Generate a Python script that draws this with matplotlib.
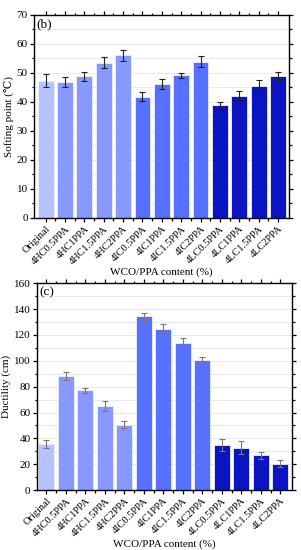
import matplotlib.pyplot as plt
from matplotlib.ticker import MultipleLocator

labels = ["Original", "4HC0.5PPA", "4HC1PPA", "4HC1.5PPA", "4HC2PPA",
          "4IC0.5PPA", "4IC1PPA", "4IC1.5PPA", "4IC2PPA",
          "4LC0.5PPA", "4LC1PPA", "4LC1.5PPA", "4LC2PPA"]
groups = ["orig"] + ["HC"] * 4 + ["IC"] * 4 + ["LC"] * 4

softening = [47.3, 46.9, 48.8, 53.5, 56.0, 41.8, 46.1, 49.2, 53.8, 38.8, 42.1, 45.6, 48.8]
softening_err = [2.2, 1.7, 1.5, 2.0, 2.0, 1.5, 1.8, 0.9, 1.9, 1.2, 1.6, 1.8, 1.4]

ductility = [35.6, 88.5, 77.1, 65.2, 50.5, 134.4, 124.8, 113.4, 100.7, 34.8, 32.8, 26.8, 20.4]
ductility_err = [3.4, 3.0, 2.0, 3.8, 2.7, 2.8, 4.0, 4.5, 2.6, 4.4, 5.0, 3.0, 2.6]

colors = {"orig": "#b6c2ff", "HC": "#8798ff", "IC": "#5671ff", "LC": "#0a14c2"}

plt.rcParams["font.family"] = ["Liberation Serif", "DejaVu Serif"]
plt.rcParams["font.size"] = 8


def draw_panel(ax, vals, errs, ylim, major, minor, ylabel, tag, ecolor, xlim):
    x = range(len(vals))
    ax.bar(x, vals, width=0.82, color=[colors[g] for g in groups],
           edgecolor="#eef0ff", linewidth=0.6, zorder=2)
    ax.errorbar(x, vals, yerr=errs, fmt="none", ecolor=ecolor,
                elinewidth=0.8, capsize=2, capthick=0.8, zorder=3)
    ax.set_ylim(*ylim)
    ax.set_xlim(*xlim)
    ax.yaxis.set_major_locator(MultipleLocator(major))
    ax.yaxis.set_minor_locator(MultipleLocator(minor))
    ax.set_xticks(list(x))
    ax.set_xticks([i + 0.5 for i in range(len(vals) - 1)], minor=True)
    ax.set_xticklabels(labels, rotation=45, ha="right", rotation_mode="anchor",
                       fontsize=7.5)
    ax.grid(axis="y", which="both", color="#e6e6e6", linewidth=0.6, zorder=0)
    ax.set_axisbelow(True)
    ax.tick_params(which="both", direction="out", top=True, right=True,
                   width=0.9, pad=1.5)
    ax.tick_params(which="major", length=3)
    ax.tick_params(which="minor", length=1.8)
    for s in ax.spines.values():
        s.set_linewidth(1.0)
    ax.set_ylabel(ylabel, labelpad=2)
    ax.set_xlabel("WCO/PPA content (%)", labelpad=1)
    ax.text(0.01, 0.985, tag, transform=ax.transAxes, ha="left", va="top",
            fontsize=9.5)


fig = plt.figure(figsize=(3.01, 5.5), dpi=100)
ax1 = fig.add_axes([0.113, 0.604, 0.846, 0.369])
ax2 = fig.add_axes([0.122, 0.109, 0.848, 0.376])

draw_panel(ax1, softening, softening_err, (0, 70), 10, 5,
           "Softing point (\u2103)", "(b)", "#202020", (-0.6, 12.55))
draw_panel(ax2, ductility, ductility_err, (0, 160), 20, 10,
           "Ductility (cm)", "(c)", "#777777", (-0.5, 12.6))

fig.savefig("out.png", dpi=100)
